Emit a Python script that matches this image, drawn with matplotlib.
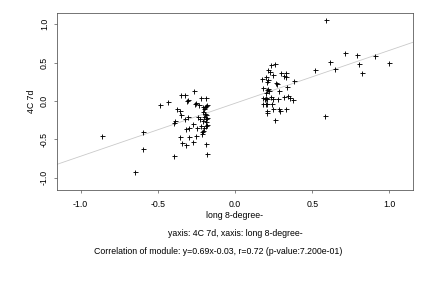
import matplotlib
matplotlib.use("Agg")
import matplotlib.pyplot as plt
import numpy as np

plt.rcParams['font.family'] = ['Liberation Sans', 'DejaVu Sans']

x_left = [-0.859, -0.594, -0.594, -0.646, -0.486, -0.432, -0.395, -0.397, -0.387, -0.378,
          -0.352, -0.324, -0.354, -0.350, -0.324, -0.302, -0.354, -0.345, -0.315, -0.296,
          -0.317, -0.311, -0.305, -0.270, -0.251, -0.296, -0.274, -0.263, -0.261, -0.255,
          -0.244, -0.238, -0.231, -0.227, -0.218, -0.188, -0.220, -0.216, -0.210, -0.207,
          -0.200, -0.195, -0.185, -0.205, -0.195, -0.185, -0.203, -0.190, -0.180, -0.205,
          -0.185, -0.190, -0.180, -0.203, -0.186, -0.179, -0.179, -0.215]
y_left = [-0.456, -0.404, -0.626, -0.926, -0.052, -0.013, -0.713, -0.283, -0.257, -0.104,
          0.074, 0.074, -0.130, -0.183, -0.235, -0.213, -0.465, -0.552, -0.574, -0.465,
          -0.369, 0.004, 0.008, -0.535, -0.456, -0.352, -0.304, 0.130, -0.035, -0.030,
          -0.352, -0.204, -0.052, -0.230, 0.039, 0.039, -0.326, -0.426, -0.395, -0.083,
          -0.110, -0.075, -0.065, -0.140, -0.170, -0.185, -0.205, -0.230, -0.220, -0.260,
          -0.270, -0.320, -0.310, -0.350, -0.561, -0.691, -0.052, -0.400]

x_mid = [0.233, 0.261, 0.216, 0.227, 0.298, 0.332, 0.317, 0.328, 0.177, 0.199,
         0.248, 0.209, 0.216, 0.266, 0.274, 0.384, 0.335, 0.183, 0.205, 0.212,
         0.220, 0.287, 0.199, 0.231, 0.179, 0.200, 0.195, 0.205, 0.248, 0.280,
         0.319, 0.345, 0.356, 0.378, 0.183, 0.200, 0.207, 0.238, 0.209, 0.209,
         0.244, 0.285, 0.291, 0.332, 0.261]
y_mid = [0.469, 0.482, 0.404, 0.382, 0.369, 0.369, 0.326, 0.309, 0.287, 0.309,
         0.339, 0.252, 0.274, 0.239, 0.222, 0.261, 0.179, 0.166, 0.143, 0.150,
         0.135, 0.130, 0.100, 0.056, 0.043, 0.043, 0.020, 0.025, 0.030, 0.026,
         0.048, 0.069, 0.035, 0.013, -0.039, -0.035, -0.039, -0.039, -0.130, -0.161,
         -0.104, -0.104, -0.130, -0.104, -0.248]

x_right = [0.591, 0.520, 0.617, 0.648, 0.714, 0.792, 0.805, 0.825, 0.905, 1.000, 0.585]
y_right = [1.056, 0.400, 0.508, 0.413, 0.626, 0.600, 0.482, 0.365, 0.587, 0.495, -0.196]

slope, intercept = 0.69, -0.03
xticks = [-1.0, -0.5, 0.0, 0.5, 1.0]
yticks = [-1.0, -0.5, 0.0, 0.5, 1.0]

x = np.array(x_left + x_mid + x_right)
y = np.array(y_left + y_mid + y_right)

fs = 8.8
fig = plt.figure(figsize=(6, 4), dpi=72)
ax = fig.add_axes([57/432, 98/288, 356/432, 177/288])
xlim = (-1.153, 1.153)
ylim = (-1.16, 1.147)
ax.set_xlim(xlim)
ax.set_ylim(ylim)
lx = np.array(xlim)
ax.plot(lx, slope * lx + intercept, color='#c8c8c8', lw=0.8, zorder=1)
ax.plot(x, y, linestyle='none', marker='+', color='black', markersize=5, markeredgewidth=0.9, zorder=2)

ax.set_xticks(xticks)
ax.set_yticks(yticks)
ax.set_xticklabels([f"{t:.1f}" for t in xticks], fontsize=fs)
ax.set_yticklabels([f"{t:.1f}" for t in yticks], fontsize=fs, rotation=90, va='center')
for s in ax.spines.values():
    s.set_color('#555555')
    s.set_linewidth(0.8)
ax.tick_params(axis='x', direction='out', length=3, width=0.7, color='#555555', pad=7)
ax.tick_params(axis='y', direction='out', length=3, width=0.7, color='#555555', pad=5)
ax.set_ylabel('4C 7d', fontsize=fs, labelpad=4)

fig.text(235/432, 1 - 216/288, 'long 8-degree-', ha='center', va='center', fontsize=fs)
fig.text(235/432, 1 - 233/288, 'yaxis: 4C 7d, xaxis: long 8-degree-', ha='center', va='center', fontsize=fs)
fig.text(218/432, 1 - 251/288, 'Correlation of module: y=0.69x-0.03, r=0.72 (p-value:7.200e-01)',
         ha='center', va='center', fontsize=fs)

fig.savefig('out.png', dpi=72)
